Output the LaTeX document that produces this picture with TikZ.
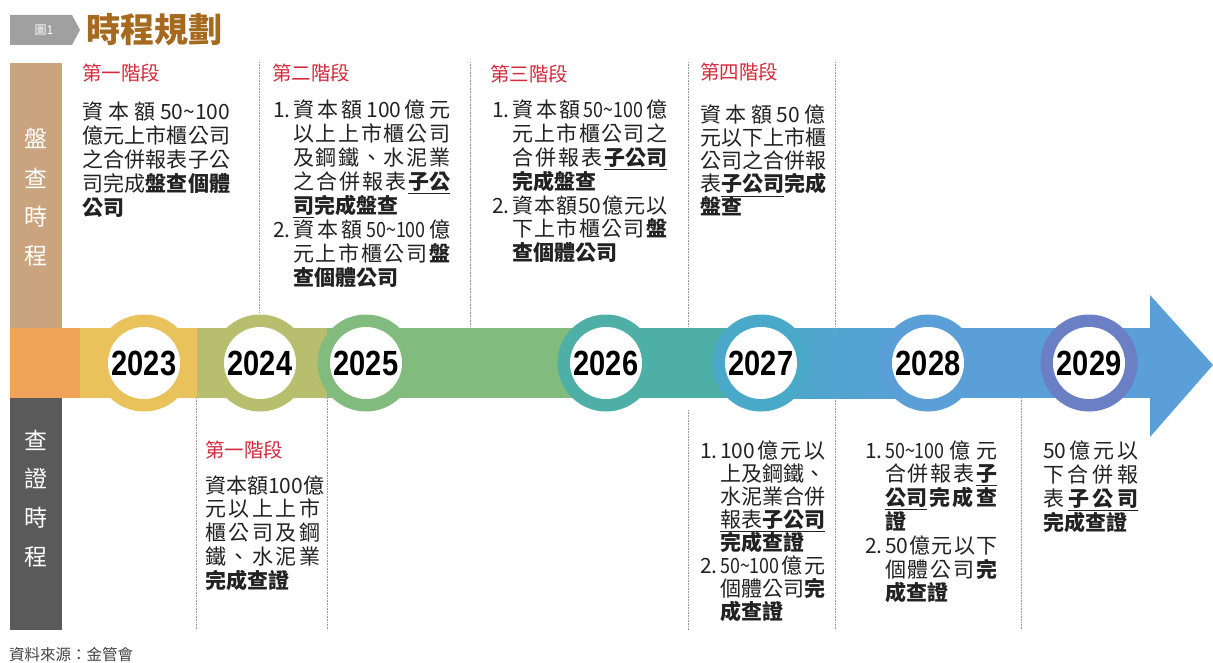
\documentclass[tikz,border=0pt]{standalone}
\usepackage{fontspec}
\usepackage{graphicx}
\setmainfont{Noto Sans CJK TC}
\newfontfamily\yearfont{Liberation Sans}
\definecolor{tanc}{HTML}{C9A47E}
\definecolor{orangec}{HTML}{F0A45A}
\definecolor{darkc}{HTML}{5A5A5A}
\definecolor{c23}{HTML}{E9C25C}
\definecolor{c24}{HTML}{B7BF6E}
\definecolor{c25}{HTML}{82BB7E}
\definecolor{c26}{HTML}{4EAFA6}
\definecolor{c27}{HTML}{4AA9C8}
\definecolor{c28}{HTML}{5A9FD8}
\definecolor{c29}{HTML}{6A7FC4}
\definecolor{redc}{HTML}{D42A3C}
\definecolor{brownc}{HTML}{A56A1F}
\definecolor{tagc}{HTML}{A0A0A0}
\definecolor{txtc}{HTML}{222222}
\newcommand\tld{\textasciitilde}
\newcommand\nd[1]{\scalebox{0.85}[1]{#1}}
\def\sprEnd{\relax}
\def\spr#1{\sprA#1\sprEnd}
\def\sprA#1#2{#1\ifx#2\sprEnd\else\hfil\expandafter\sprA\expandafter#2\fi}
\newcommand\B[1]{{\bfseries#1}}
\newcommand\ul[1]{\vtop{\hbox{#1}\kern1.6pt\hrule height0.7pt}}
\newdimen\cw
\newcommand\nrow[2]{\hbox{\hbox to20pt{#1\hfil}\hbox to\cw{#2}}}
\newcommand\nrowf[2]{\hbox{\hbox to20pt{#1\hfil}#2}}
\newcommand\jrow[1]{\hbox to\cw{#1}}
\newcommand\frow[1]{\hbox{#1}}
\newcommand\colbox[3]{\vtop{\cw=#1\relax\baselineskip=#2\relax\lineskiplimit=-100pt\relax#3}}
\begin{document}
\begin{tikzpicture}[x=1pt,y=-1pt,
  txt/.style={inner sep=0pt, font=\fontsize{21}{24}\selectfont, text=txtc, anchor=base west},
  stage/.style={inner sep=0pt, font=\fontsize{19.5}{20}\selectfont, text=redc, anchor=west},
  vlab/.style={inner sep=0pt, font=\fontsize{23}{24}\selectfont, text=white},
  year/.style={inner sep=0pt, font=\yearfont\fontsize{35}{35}\selectfont\bfseries, text=black},
  dotline/.style={draw=gray!80, densely dotted, line width=0.6pt}]
\useasboundingbox (0,0) rectangle (1213,663);
\fill[white] (0,0) rectangle (1213,663);
% title
\fill[tagc] (10,15) -- (72,15) -- (80,30) -- (72,45) -- (10,45) -- cycle;
\node[inner sep=0pt, font=\fontsize{12}{12}\selectfont, text=white] (tag) at (44,30) {圖1};
\node[inner sep=0pt, anchor=west, font=\fontsize{34}{36}\selectfont\bfseries, text=brownc] (title) at (86,30) {時程規劃};
% side bars
\fill[tanc] (10,63) rectangle (62,328);
\fill[orangec] (10,328) rectangle (80,398);
\fill[darkc] (10,398) rectangle (62,630);
\node[vlab] (v1) at (36,138) {盤};
\node[vlab] (v2) at (36,178) {查};
\node[vlab] (v3) at (36,217) {時};
\node[vlab] (v4) at (36,256) {程};
\node[vlab] (w1) at (36,440) {查};
\node[vlab] (w2) at (36,479) {證};
\node[vlab] (w3) at (36,518) {時};
\node[vlab] (w4) at (36,557) {程};
% band
\fill[c23] (80,328) rectangle (197,398);
\fill[c24] (197,328) rectangle (327,398);
\fill[c25] (327,328) rectangle (606,398);
\fill[c26] (606,328) rectangle (761,398);
\shade[left color=c27, right color=c28] (761,328) rectangle (928,398);
\fill[c28] (927,328) rectangle (1151,398);
\fill[c28] (1150,295) -- (1213,365) -- (1150,437) -- cycle;
% dotted separators
\draw[dotline] (259,62) -- (259,313);
\draw[dotline] (470,62) -- (470,328);
\draw[dotline] (688,62) -- (688,328);
\draw[dotline] (835,62) -- (835,328);
\draw[dotline] (196,398) -- (196,630);
\draw[dotline] (327,398) -- (327,630);
\draw[dotline] (688,410) -- (688,630);
\draw[dotline] (835,398) -- (835,630);
\draw[dotline] (1021,398) -- (1021,630);
% circles
\foreach \cx/\cc in {144/c23,260/c24,366/c25,606/c26,761/c27,928/c28,1089/c29}{
  \fill[\cc] (\cx,363) circle (48.5pt);
  \fill[white] (\cx,363) circle (36pt);
}
\node[year] (y23) at (144,363) {\scalebox{0.83}[1]{2023}};
\node[year] (y24) at (260,363) {\scalebox{0.83}[1]{2024}};
\node[year] (y25) at (366,363) {\scalebox{0.83}[1]{2025}};
\node[year] (y26) at (606,363) {\scalebox{0.83}[1]{2026}};
\node[year] (y27) at (761,363) {\scalebox{0.83}[1]{2027}};
\node[year] (y28) at (928,363) {\scalebox{0.83}[1]{2028}};
\node[year] (y29) at (1089,363) {\scalebox{0.83}[1]{2029}};
% stage titles
\node[stage] (s1) at (82,73) {第一階段};
\node[stage] (s2) at (272,73) {第二階段};
\node[stage] (s3) at (490,74) {第三階段};
\node[stage] (s4) at (700,72) {第四階段};
\node[stage] (s5) at (205,450) {第一階段};
% top columns
\node[txt] (t1) at (82,120) {\colbox{148pt}{23.8pt}{%
  \jrow{\spr{資本額}\hfil 50\tld 100}
  \jrow{\spr{億元上市櫃公司}}
  \jrow{\spr{之合併報表子公}}
  \jrow{\spr{司完成}\hfil\B{\spr{盤查個體}}}
  \frow{\B{公司}}}};
\node[txt] (t2) at (273,118) {\colbox{157pt}{23.9pt}{%
  \nrow{1.}{\spr{資本額}\hfil 100\hfil\spr{億元}}
  \nrow{}{\spr{以上上市櫃公司}}
  \nrow{}{\spr{及鋼鐵、水泥業}}
  \nrow{}{\spr{之合併報表}\hfil\ul{\B{子公}}}
  \nrowf{}{\ul{\B{司}}\B{完成盤查}}
  \nrow{2.}{\spr{資本額}\hfil\nd{50\tld 100}\hfil{}億}
  \nrow{}{\spr{元上市櫃公司}\hfil\B{盤}}
  \nrowf{}{\B{查個體公司}}}};
\node[txt] (t3) at (492,118) {\colbox{155pt}{23.8pt}{%
  \nrow{1.}{\spr{資本額}\hfil\nd{50\tld 100}\hfil{}億}
  \nrow{}{\spr{元上市櫃公司之}}
  \nrow{}{\spr{合併報表}\hfil\ul{\B{子公司}}}
  \nrowf{}{\B{完成盤查}}
  \nrow{2.}{\spr{資本額}\hfil 50\hfil\spr{億元以}}
  \nrow{}{\spr{下上市櫃公司}\hfil\B{盤}}
  \nrowf{}{\B{查個體公司}}}};
\node[txt] (t4) at (700,123) {\colbox{125pt}{23pt}{%
  \jrow{\spr{資本額}\hfil 50\hfil{}億}
  \jrow{\spr{元以下上市櫃}}
  \jrow{\spr{公司之合併報}}
  \jrow{表\hfil\ul{\B{子公司}}\hfil\B{完成}}
  \frow{\B{盤查}}}};
% bottom columns
\node[txt] (b1) at (205,493) {\colbox{115pt}{23.75pt}{%
  \jrow{\spr{資本額}\hfil 100\hfil{}億}
  \jrow{\spr{元以上上市}}
  \jrow{\spr{櫃公司及鋼}}
  \jrow{\spr{鐵、水泥業}}
  \frow{\B{完成查證}}}};
\node[txt] (b2) at (700,458) {\colbox{105pt}{23.1pt}{%
  \nrow{1.}{100\hfil\spr{億元以}}
  \nrow{}{\spr{上及鋼鐵、}}
  \nrow{}{\spr{水泥業合併}}
  \nrowf{}{\ul{\hbox to105pt{\spr{報表}\hfil\B{子公司}}}}
  \nrowf{}{\B{完成查證}}
  \nrow{2.}{\nd{50\tld 100}\hfil\spr{億元}}
  \nrow{}{\spr{個體公司}\hfil\B{完}}
  \nrowf{}{\B{成查證}}}};
\node[txt] (b3) at (865,458) {\colbox{112pt}{23.8pt}{%
  \nrow{1.}{\nd{50\tld 100}\hfil\spr{億元}}
  \nrow{}{\spr{合併報表}\hfil\ul{\B{子}}}
  \nrow{}{\ul{\B{公司}}\hfil\B{\spr{完成查}}}
  \nrowf{}{\B{證}}
  \nrow{2.}{50\hfil\spr{億元以下}}
  \nrow{}{\spr{個體公司}\hfil\B{完}}
  \nrowf{}{\B{成查證}}}};
\node[txt] (b4) at (1043,458) {\colbox{95pt}{24pt}{%
  \jrow{50\hfil\spr{億元以}}
  \jrow{\spr{下合併報}}
  \jrow{表\hfil\ul{\hbox to70pt{\B{\spr{子公司}}}}}
  \frow{\B{完成查證}}}};
% source
\node[inner sep=0pt, anchor=west, font=\fontsize{15.5}{16}\selectfont, text=txtc!85] (src) at (9,655) {資料來源：金管會};
\end{tikzpicture}
\end{document}
